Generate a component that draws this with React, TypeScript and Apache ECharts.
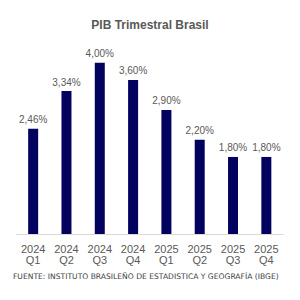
import React, { useEffect, useRef } from "react";
import * as echarts from "echarts";

const categories = ["2024\nQ1", "2024\nQ2", "2024\nQ3", "2024\nQ4", "2025\nQ1", "2025\nQ2", "2025\nQ3", "2025\nQ4"];
const values = [2.46, 3.34, 4.0, 3.6, 2.9, 2.2, 1.8, 1.8];
const title = "PIB Trimestral Brasil";
const source = "FUENTE: INSTITUTO BRASILEÑO DE ESTADISTICA Y GEOGRAFÍA (IBGE)";

export default function App() {
  const ref = useRef<HTMLDivElement>(null);
  useEffect(() => {
    document.body.style.margin = "0";
    const chart = echarts.init(ref.current!, undefined, { renderer: "svg" });
    chart.setOption({
      animation: false,
      backgroundColor: "#ffffff",
      title: {
        text: title,
        left: "center",
        top: 14,
        textStyle: { fontFamily: "Liberation Sans, Arial, sans-serif", fontSize: 12, fontWeight: "bold", color: "#595959" },
      },
      grid: { left: 16.5, right: 17, top: 41.4, bottom: 66 },
      xAxis: {
        type: "category",
        data: categories,
        axisLine: { show: true, lineStyle: { color: "#d9d9d9", width: 1 } },
        axisTick: { show: false },
        axisLabel: {
          color: "#595959",
          fontFamily: "Liberation Sans, Arial, sans-serif",
          fontSize: 11,
          lineHeight: 11.5,
          margin: 9,
          interval: 0,
        },
      },
      yAxis: {
        type: "value",
        min: 0,
        max: 4.5,
        show: false,
        splitLine: { show: false },
      },
      series: [
        {
          type: "bar",
          data: values,
          barWidth: 10,
          itemStyle: { color: "#03035f" },
          label: {
            show: true,
            position: "top",
            distance: 4,
            color: "#595959",
            fontFamily: "Liberation Sans, Arial, sans-serif",
            fontSize: 10,
            formatter: (p: any) => p.value.toFixed(2).replace(".", ",") + "%",
          },
        },
      ],
      graphic: [
        {
          type: "text",
          left: 13,
          top: 272,
          style: {
            text: source,
            fill: "#404040",
            font: "7.6px 'DejaVu Sans', sans-serif",
          },
        },
      ],
    });
    return () => chart.dispose();
  }, []);
  return <div ref={ref} style={{ width: 300, height: 300 }} />;
}
